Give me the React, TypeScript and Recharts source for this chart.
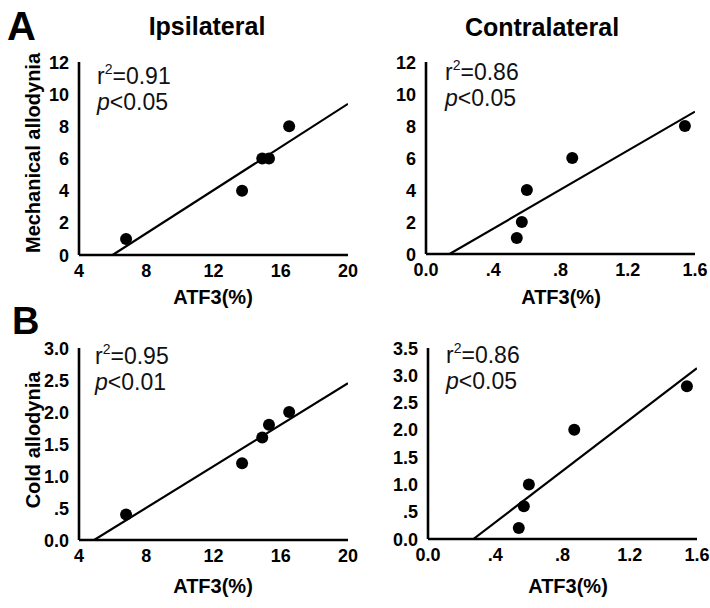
import React from 'react';
import { ScatterChart, Scatter, XAxis, YAxis } from 'recharts';

// ---- data ----
const ipsiATF3 = [6.8, 13.7, 14.9, 15.3, 16.5];
const ipsiMech = [1, 4, 6, 6, 8];
const ipsiCold = [0.4, 1.2, 1.6, 1.8, 2.0];

const contraATF3 = [0.54, 0.57, 0.6, 0.87, 1.54];
const contraMech = [1, 2, 4, 6, 8];
const contraCold = [0.2, 0.6, 1.0, 2.0, 2.8];

// regression line end points
const ipsiMechFitX = [6.0, 20];
const ipsiMechFitY = [0, 9.4];
const contraMechFitX = [0.14, 1.6];
const contraMechFitY = [0, 8.9];
const ipsiColdFitX = [4.9, 20];
const ipsiColdFitY = [0, 2.45];
const contraColdFitX = [0.27, 1.6];
const contraColdFitY = [0, 3.13];

// ticks
const ipsiXTicks = [4, 8, 12, 16, 20];
const ipsiXLabels = ['4', '8', '12', '16', '20'];
const contraXTicks = [0, 0.4, 0.8, 1.2, 1.6];
const contraXLabels = ['0.0', '.4', '.8', '1.2', '1.6'];
const mechYTicks = [0, 2, 4, 6, 8, 10, 12];
const mechYLabels = ['0', '2', '4', '6', '8', '10', '12'];
const coldYTicksIpsi = [0, 0.5, 1, 1.5, 2, 2.5, 3];
const coldYLabelsIpsi = ['0.0', '.5', '1.0', '1.5', '2.0', '2.5', '3.0'];
const coldYTicksContra = [0, 0.5, 1, 1.5, 2, 2.5, 3, 3.5];
const coldYLabelsContra = ['0.0', '.5', '1.0', '1.5', '2.0', '2.5', '3.0', '3.5'];

const stats = [
  { r2: '0.91', p: '<0.05' },
  { r2: '0.86', p: '<0.05' },
  { r2: '0.95', p: '<0.01' },
  { r2: '0.86', p: '<0.05' },
];

const zip = (xs: number[], ys: number[]) => xs.map((x, i) => ({ x, y: ys[i] }));

const FONT = "Arial, 'Liberation Sans', Helvetica, sans-serif";

type PanelProps = {
  box: { x0: number; y0: number; x1: number; y1: number };
  points: { x: number; y: number }[];
  fit: { x: number; y: number }[];
  xTicks: number[];
  xLabels: string[];
  yTicks: number[];
  yLabels: string[];
};

const YW = 70;
const XH = 40;

const Dot = (props: any) => <circle cx={props.cx} cy={props.cy} r={6} fill="#000" />;
const NoDot = () => <g />;

const makeXTick = (labels: string[]) => (props: any) => {
  const { x, y, index } = props;
  return (
    <text x={x} y={y + 13} textAnchor="middle" fontFamily={FONT} fontWeight="bold" fontSize={18} fill="#000">
      {labels[index]}
    </text>
  );
};
const makeYTick = (labels: string[]) => (props: any) => {
  const { x, y, index } = props;
  return (
    <text x={x} y={y + 6.5} textAnchor="end" fontFamily={FONT} fontWeight="bold" fontSize={18} fill="#000">
      {labels[index]}
    </text>
  );
};

function Panel({ box, points, fit, xTicks, xLabels, yTicks, yLabels }: PanelProps) {
  const left = box.x0 - YW;
  const top = box.y0 - 10;
  const width = box.x1 + 14 - left;
  const height = box.y1 + XH - top;
  return (
    <div style={{ position: 'absolute', left, top, width, height }}>
      <ScatterChart width={width} height={height} margin={{ top: 10, right: 14, bottom: 0, left: 0 }}>
        <XAxis
          type="number"
          dataKey="x"
          domain={[xTicks[0], xTicks[xTicks.length - 1]]}
          ticks={xTicks}
          allowDataOverflow
          height={XH}
          tickLine={false}
          tickSize={9}
          tickMargin={0}
          axisLine={{ stroke: '#000', strokeWidth: 2.6 }}
          tick={makeXTick(xLabels)}
          interval={0}
        />
        <YAxis
          type="number"
          dataKey="y"
          domain={[yTicks[0], yTicks[yTicks.length - 1]]}
          ticks={yTicks}
          allowDataOverflow
          width={YW}
          tickLine={false}
          tickSize={10}
          tickMargin={0}
          axisLine={{ stroke: '#000', strokeWidth: 2.6 }}
          tick={makeYTick(yLabels)}
          interval={0}
        />
        <Scatter
          data={fit}
          line={{ stroke: '#000', strokeWidth: 2.2 }}
          shape={NoDot}
          isAnimationActive={false}
        />
        <Scatter data={points} shape={Dot} fill="#000" isAnimationActive={false} />
      </ScatterChart>
    </div>
  );
}

function Stat({ x, y1, y2, r2, p }: { x: number; y1: number; y2: number; r2: string; p: string }) {
  return (
    <g fontFamily={FONT} fontSize={23} fill="#111">
      <text x={x} y={y1}>
        r<tspan dy={-10} fontSize={14}>2</tspan>
        <tspan dy={10}>={r2}</tspan>
      </text>
      <text x={x} y={y2}>
        <tspan fontStyle="italic">p</tspan>
        <tspan>{p}</tspan>
      </text>
    </g>
  );
}

export default function App() {
  const boxAL = { x0: 79, y0: 62, x1: 348, y1: 255 };
  const boxAR = { x0: 426, y0: 62, x1: 695, y1: 254 };
  const boxBL = { x0: 79, y0: 348, x1: 348, y1: 540 };
  const boxBR = { x0: 428, y0: 348, x1: 697, y1: 539 };
  return (
    <div style={{ position: 'absolute', left: 0, top: 0, width: 710, height: 608, background: '#fff', overflow: 'hidden' }}>
      <Panel box={boxAL} points={zip(ipsiATF3, ipsiMech)} fit={zip(ipsiMechFitX, ipsiMechFitY)}
        xTicks={ipsiXTicks} xLabels={ipsiXLabels} yTicks={mechYTicks} yLabels={mechYLabels} />
      <Panel box={boxAR} points={zip(contraATF3, contraMech)} fit={zip(contraMechFitX, contraMechFitY)}
        xTicks={contraXTicks} xLabels={contraXLabels} yTicks={mechYTicks} yLabels={mechYLabels} />
      <Panel box={boxBL} points={zip(ipsiATF3, ipsiCold)} fit={zip(ipsiColdFitX, ipsiColdFitY)}
        xTicks={ipsiXTicks} xLabels={ipsiXLabels} yTicks={coldYTicksIpsi} yLabels={coldYLabelsIpsi} />
      <Panel box={boxBR} points={zip(contraATF3, contraCold)} fit={zip(contraColdFitX, contraColdFitY)}
        xTicks={contraXTicks} xLabels={contraXLabels} yTicks={coldYTicksContra} yLabels={coldYLabelsContra} />
      <svg width={710} height={608} style={{ position: 'absolute', left: 0, top: 0, pointerEvents: 'none' }}>
        <g fontFamily={FONT} fontWeight="bold" fill="#000">
          <text x={7} y={40} fontSize={40}>A</text>
          <text x={12} y={334} fontSize={38}>B</text>
          <text x={207} y={35} fontSize={25} textAnchor="middle">Ipsilateral</text>
          <text x={542} y={36} fontSize={25} textAnchor="middle">Contralateral</text>
          <text transform="translate(40,153) rotate(-90)" fontSize={20} textAnchor="middle">Mechanical allodynia</text>
          <text transform="translate(40,440) rotate(-90)" fontSize={20} textAnchor="middle">Cold allodynia</text>
          <text x={213} y={304} fontSize={20} textAnchor="middle">ATF3(%)</text>
          <text x={561} y={304} fontSize={20} textAnchor="middle">ATF3(%)</text>
          <text x={213} y={593} fontSize={20} textAnchor="middle">ATF3(%)</text>
          <text x={568} y={593} fontSize={20} textAnchor="middle">ATF3(%)</text>
        </g>
        <Stat x={97} y1={84} y2={110} r2={stats[0].r2} p={stats[0].p} />
        <Stat x={445} y1={80} y2={106} r2={stats[1].r2} p={stats[1].p} />
        <Stat x={95} y1={364} y2={390} r2={stats[2].r2} p={stats[2].p} />
        <Stat x={446} y1={363} y2={389} r2={stats[3].r2} p={stats[3].p} />
      </svg>
    </div>
  );
}
